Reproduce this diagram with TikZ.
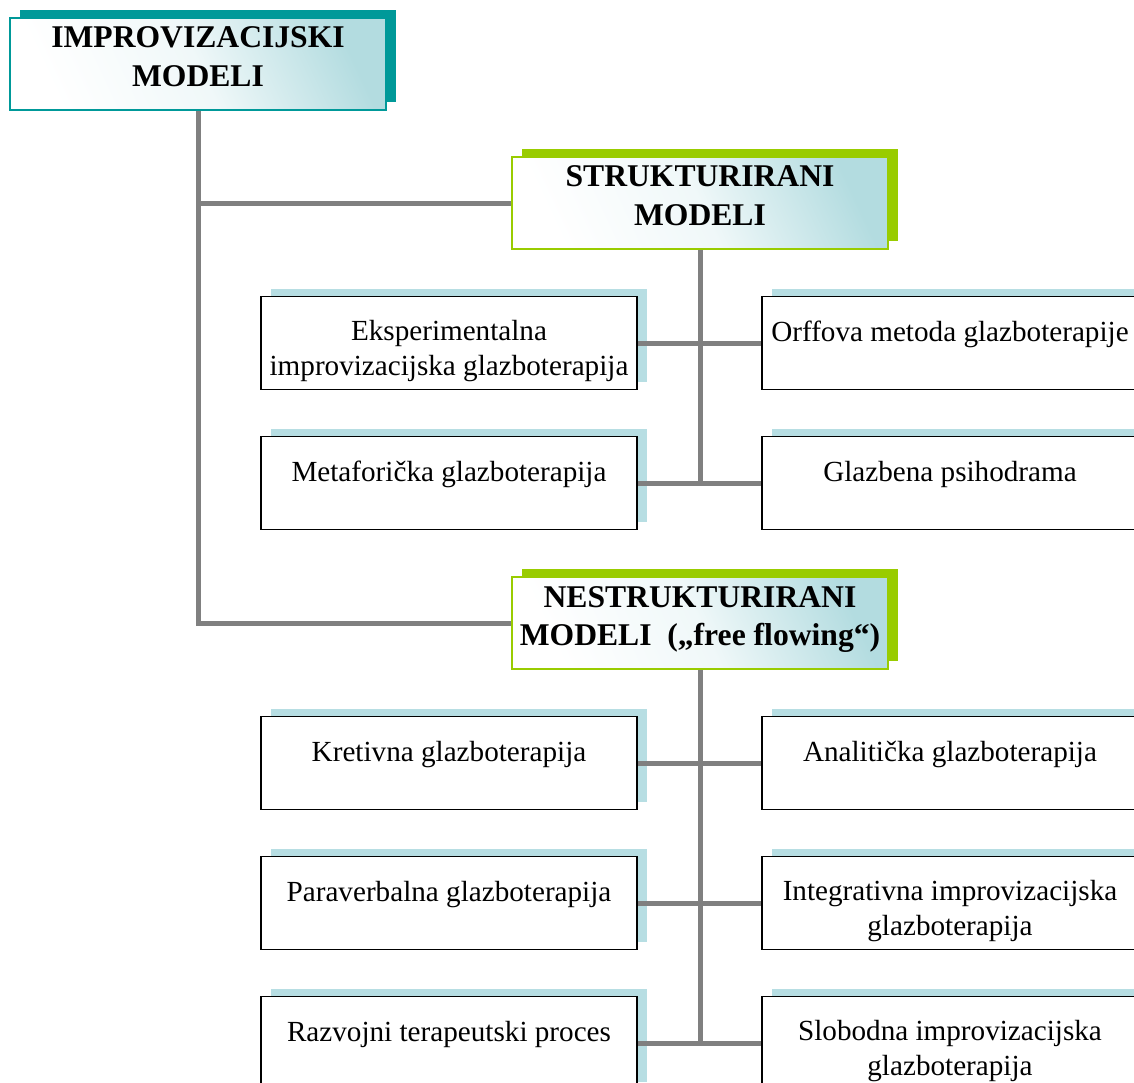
\documentclass[tikz,border=0pt]{standalone}
\usepackage{fontspec}
\setmainfont{Liberation Serif}
\usetikzlibrary{shadows}

\definecolor{tealbox}{HTML}{009999}
\definecolor{greenbox}{HTML}{99CC00}
\definecolor{paleblue}{HTML}{B7DEE3}
\definecolor{headfill}{HTML}{B3DCE0}
\definecolor{linegray}{HTML}{808080}

\tikzset{
  headbox/.style={rectangle, draw=#1, line width=1pt, minimum width=7.52cm, minimum height=1.84cm,
    top color=headfill, bottom color=white, middle color=white!80!headfill, shading angle=-65,
    drop shadow={shadow xshift=0.2cm, shadow yshift=0.17cm, opacity=1, fill=#1}},
  subbox/.style={rectangle, draw=black, line width=0.9pt, fill=white, minimum width=7.52cm, minimum height=1.86cm,
    drop shadow={shadow xshift=0.2cm, shadow yshift=0.16cm, opacity=1, fill=paleblue}},
  headtext/.style={align=center, font=\bfseries\fontsize{18}{22}\selectfont, yshift=0.14cm},
  onetext/.style={align=center, font=\fontsize{16.6}{20}\selectfont, yshift=0.17cm},
  twotext/.style={align=center, font=\fontsize{16.6}{20}\selectfont, yshift=-0.16cm},
  conn/.style={draw=linegray, line width=0.1cm}
}

\begin{document}
\begin{tikzpicture}[x=0.02cm, y=-0.02cm]
\useasboundingbox (0,0) rectangle (1134,1083);

% main headings
\node[headbox=tealbox, label={[headtext]center:{IMPROVIZACIJSKI\\MODELI}}] (imp) at (198,64) {};
\node[headbox=greenbox, label={[headtext]center:{STRUKTURIRANI\\MODELI}}] (str) at (700,203) {};
\node[headbox=greenbox, label={[headtext, yshift=-0.07cm]center:{NESTRUKTURIRANI\\MODELI~~(„free flowing“)}}] (nes) at (700,623) {};

% strukturirani
\node[subbox, label={[twotext]center:{Eksperimentalna\\improvizacijska glazboterapija}}] (eks) at (449,343) {};
\node[subbox, label={[onetext]center:{Orffova metoda glazboterapije}}] (orf) at (950,343) {};
\node[subbox, label={[onetext]center:{Metaforička glazboterapija}}] (met) at (449,483) {};
\node[subbox, label={[onetext]center:{Glazbena psihodrama}}] (psi) at (950,483) {};

% nestrukturirani
\node[subbox, label={[onetext]center:{Kretivna glazboterapija}}] (kre) at (449,763) {};
\node[subbox, label={[onetext]center:{Analitička glazboterapija}}] (ana) at (950,763) {};
\node[subbox, label={[onetext]center:{Paraverbalna glazboterapija}}] (par) at (449,903) {};
\node[subbox, label={[twotext]center:{Integrativna improvizacijska\\glazboterapija}}] (int) at (950,903) {};
\node[subbox, label={[onetext]center:{Razvojni terapeutski proces}}] (raz) at (449,1043) {};
\node[subbox, label={[twotext]center:{Slobodna improvizacijska\\glazboterapija}}] (slo) at (950,1043) {};

% connectors
\draw[conn] (imp.south) |- (nes.west);
\draw[conn] (imp.south |- str.west) -- (str.west);

\draw[conn] (str.south) -- (str.south |- met.east);
\draw[conn] (eks.east) -- (orf.west);
\draw[conn] (met.east) -- (psi.west);

\draw[conn] (nes.south) -- (nes.south |- raz.east);
\draw[conn] (kre.east) -- (ana.west);
\draw[conn] (par.east) -- (int.west);
\draw[conn] (raz.east) -- (slo.west);

\end{tikzpicture}
\end{document}
